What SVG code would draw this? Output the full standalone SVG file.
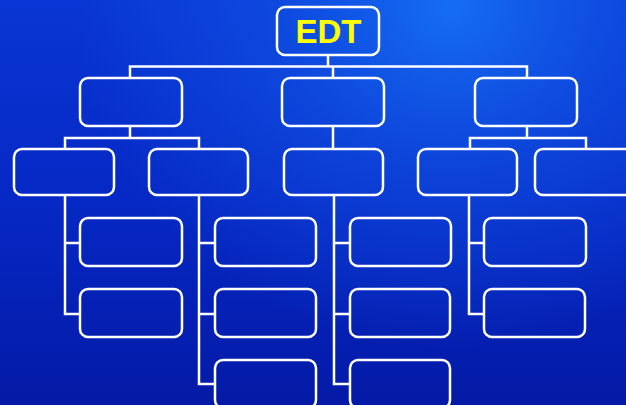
<svg xmlns="http://www.w3.org/2000/svg" width="626" height="405" viewBox="0 0 626 405">
<defs>
<linearGradient id="bg" x1="0" y1="0" x2="0" y2="1">
<stop offset="0" stop-color="#0936d4"/>
<stop offset="0.5" stop-color="#0628c4"/>
<stop offset="1" stop-color="#041aa6"/>
</linearGradient>
<radialGradient id="glow" cx="0.72" cy="0.02" r="0.6" gradientTransform="translate(0.72 0.02) scale(1 1.4) translate(-0.72 -0.02)">
<stop offset="0" stop-color="#1670f4" stop-opacity="0.95"/>
<stop offset="0.5" stop-color="#1258e8" stop-opacity="0.5"/>
<stop offset="1" stop-color="#1258e8" stop-opacity="0"/>
</radialGradient>
</defs>
<style>
.box{fill:none;stroke:#fff;stroke-width:2.5}
.con{fill:none;stroke:#fff;stroke-width:2.5;stroke-linejoin:miter}
.title{font-family:"Liberation Sans",Arial,sans-serif;font-weight:bold;font-size:33px;fill:#ffff00}
</style>
<rect width="626" height="405" fill="url(#bg)"/>
<rect width="626" height="405" fill="url(#glow)"/>
<g id="connectors" class="con">
<path d="M328 55V66.5M130 78V66.5H527V78M333 66.5V78"/>
<path d="M130 126V138M65 149V138H199V149"/>
<path d="M333 126V149"/>
<path d="M527 126V138M470 149V138H586V149"/>
<path d="M65 195V314H80M65 243H80"/>
<path d="M199 195V384H215M199 243H215M199 314H215"/>
<path d="M334 195V384H350M334 243H350M334 314H350"/>
<path d="M469 195V314H484M469 243H484"/>
</g>
<g id="root"><rect class="box" x="277" y="7" width="102" height="48" rx="8"/><text class="title" x="328.5" y="43" text-anchor="middle">EDT</text></g>
<g id="n1"><rect class="box" x="80" y="78" width="102" height="48" rx="8"/></g>
<g id="n2"><rect class="box" x="282" y="78" width="102" height="48" rx="8"/></g>
<g id="n3"><rect class="box" x="475" y="78" width="102" height="48" rx="8"/></g>
<g id="n1a"><rect class="box" x="14" y="149" width="100" height="46" rx="8"/></g>
<g id="n1b"><rect class="box" x="149" y="149" width="99" height="46" rx="8"/></g>
<g id="n2a"><rect class="box" x="284" y="149" width="99" height="46" rx="8"/></g>
<g id="n3a"><rect class="box" x="418" y="149" width="99" height="46" rx="8"/></g>
<g id="n3b"><rect class="box" x="535" y="149" width="100" height="46" rx="8"/></g>
<g id="n1a1"><rect class="box" x="80" y="218" width="102" height="48" rx="8"/></g>
<g id="n1a2"><rect class="box" x="80" y="289" width="102" height="48" rx="8"/></g>
<g id="n1b1"><rect class="box" x="215" y="218" width="101" height="48" rx="8"/></g>
<g id="n1b2"><rect class="box" x="215" y="289" width="101" height="48" rx="8"/></g>
<g id="n1b3"><rect class="box" x="215" y="360" width="101" height="48" rx="8"/></g>
<g id="n2a1"><rect class="box" x="350" y="218" width="101" height="48" rx="8"/></g>
<g id="n2a2"><rect class="box" x="350" y="289" width="100" height="48" rx="8"/></g>
<g id="n2a3"><rect class="box" x="350" y="360" width="100" height="48" rx="8"/></g>
<g id="n3a1"><rect class="box" x="484" y="218" width="102" height="48" rx="8"/></g>
<g id="n3a2"><rect class="box" x="484" y="289" width="101" height="48" rx="8"/></g>
</svg>
